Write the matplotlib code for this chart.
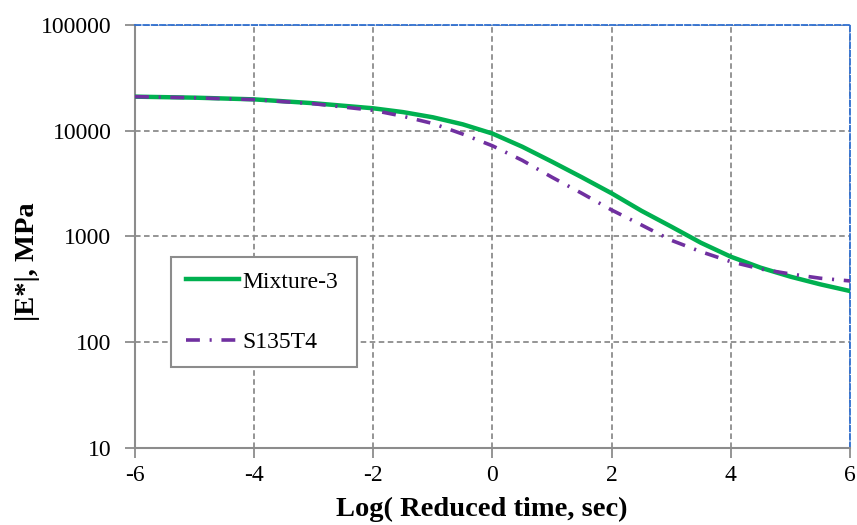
import matplotlib
matplotlib.use("Agg")
import matplotlib.pyplot as plt

# log reduced time (sec)
log_time = [-6, -5, -4, -3, -2, -1.5, -1, -0.5, 0, 0.5, 1, 1.5, 2, 2.5, 3, 3.5, 4, 4.5, 5, 5.5, 6]

# |E*| in MPa
mixture3 = [21000, 20550, 19800, 18200, 16300, 15000, 13400, 11500, 9400, 7060, 5090,
            3630, 2560, 1750, 1240, 871, 644, 507, 417, 353, 305]
s135t4 = [21000, 20500, 19700, 18000, 15600, 13700, 11700, 9300, 7200, 5250, 3630,
          2560, 1780, 1285, 921, 718, 578, 493, 442, 403, 380]

x_ticks = [-6, -4, -2, 0, 2, 4, 6]
y_ticks = [10, 100, 1000, 10000, 100000]

plt.rcParams["font.family"] = ["Liberation Serif", "DejaVu Serif"]
plt.rcParams["lines.scale_dashes"] = False

fig = plt.figure(figsize=(8.57, 5.25), dpi=100)
ax = fig.add_axes([0.1575, 0.1467, 0.8343, 0.8057])

grid_col = "#8c8c8c"
ax.plot(log_time, mixture3, color="#00b050", lw=3.2, label="Mixture-3", zorder=3)
ax.plot(log_time, s135t4, color="#7030a0", lw=2.6, dashes=(10, 7, 1.5, 7),
        label="S135T4", zorder=4)

ax.set_yscale("log")
ax.set_xlim(-6, 6)
ax.set_ylim(10, 100000)
ax.set_xticks(x_ticks)
ax.set_xticklabels([str(t) for t in x_ticks])
ax.set_yticks(y_ticks)
ax.set_yticklabels([str(t) for t in y_ticks])
ax.minorticks_off()

ax.grid(True, color=grid_col, ls=(0, (4, 2.5)), lw=1.3)
ax.set_axisbelow(True)

for side in ["left", "bottom"]:
    ax.spines[side].set_color(grid_col)
    ax.spines[side].set_linewidth(1.5)
for side in ["top", "right"]:
    ax.spines[side].set_color("#2f6fd0")
    ax.spines[side].set_linestyle((0, (4, 2)))
    ax.spines[side].set_linewidth(1.3)

ax.tick_params(axis="both", labelsize=17, color=grid_col, width=1.3, length=7,
               direction="out")
ax.tick_params(axis="x", pad=5)
ax.tick_params(axis="y", pad=10)

ax.set_xlabel("Log( Reduced time, sec)", fontsize=20.5, fontweight="bold")
ax.set_ylabel("|E*|, MPa", fontsize=20.5, fontweight="bold")
ax.yaxis.set_label_coords(-0.133, 0.44)
ax.xaxis.set_label_coords(0.485, -0.115)

leg = ax.legend(loc="lower left", bbox_to_anchor=(0.051, 0.191, 0.26, 0.267),
                mode="expand", fontsize=17, frameon=True, fancybox=False,
                handlelength=2.25, handletextpad=0.15, labelspacing=1.65,
                borderaxespad=0, borderpad=0.6)
leg.get_frame().set_edgecolor(grid_col)
leg.get_frame().set_linewidth(1.5)
leg.get_frame().set_alpha(1)

fig.savefig("out.png", dpi=100)
